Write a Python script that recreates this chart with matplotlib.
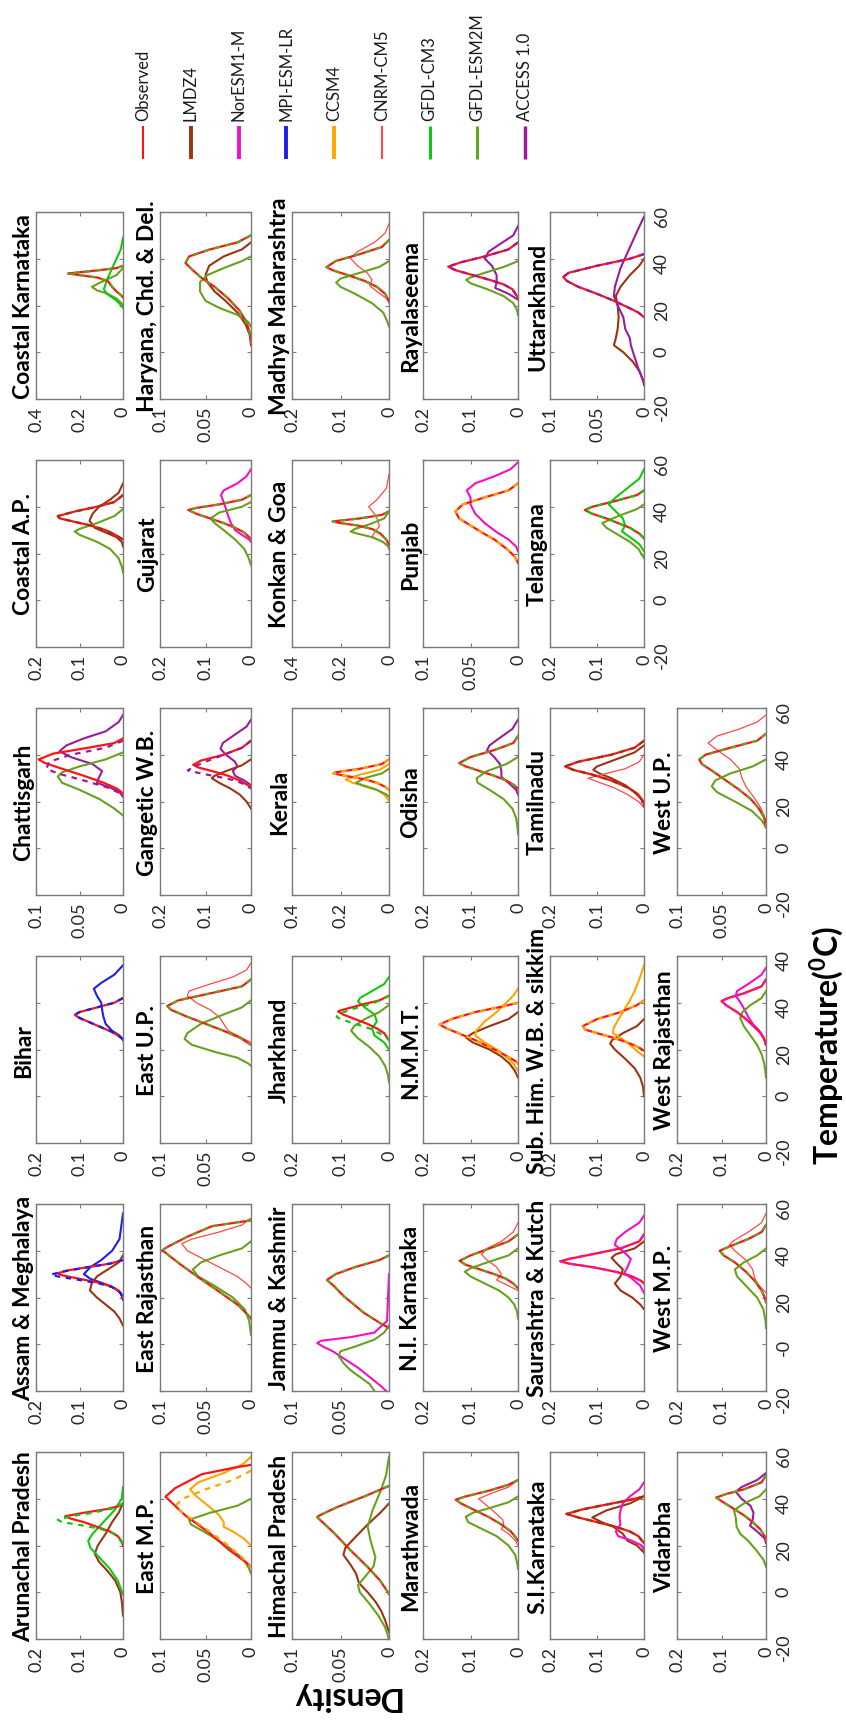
import matplotlib.pyplot as plt

plt.rcParams['font.family'] = ['Lato', 'DejaVu Sans']
plt.rcParams['mathtext.fontset'] = 'custom'
plt.rcParams['mathtext.rm'] = 'Lato'
plt.rcParams['mathtext.bf'] = 'Lato:bold'

# series shown in the legend
series_names = ['Observed', 'LMDZ4', 'NorESM1-M', 'MPI-ESM-LR', 'CCSM4',
                'CNRM-CM5', 'GFDL-CM3', 'GFDL-ESM2M', 'ACCESS 1.0']

temp_ticks = [-20, 0, 20, 40, 60]
temp_labels = ['-20', '0', '20', '40', '60']
temp_labels_west_raj = ['-20', '0', '20', '40', '40']
temp_labels_west_mp = ['-20', '-0', '20', '40', '60']

# every curve: list of (temperature, density)
# 'dashed' = model whose corrected curve is drawn dashed over the observed one
coastal_karnataka = {
    'dashed': 'GFDL-ESM2M',
    'Observed': [(37, 0), (36, .03), (35, .12), (34, .22), (33.7, .252), (33, .2), (32, .12), (30.5, .07), (28, .05), (26, .03), (24.5, .01), (23.5, 0)],
    'GFDL-ESM2M': [(36, 0), (33, .03), (30.5, .09), (28, .143), (26.5, .12), (25, .07), (23, .03), (21, .008), (20, 0)],
    'GFDL-CM3': [(49, 0), (44, .01), (40, .03), (36, .05), (31, .073), (27, .088), (25, .075), (22.5, .035), (20, .008), (19, 0)],
}
coastal_ap = {
    'dashed': 'LMDZ4',
    'Observed': [(45, 0), (42, .02), (40, .06), (38, .11), (36, .15), (35, .145), (33.5, .11), (32, .075), (30, .04), (28, .018), (26, 0)],
    'LMDZ4': [(50, 0), (46, .01), (43, .03), (40, .055), (37, .07), (34, .077), (31, .065), (29, .04), (27, .015), (25, .003), (23, 0)],
    'GFDL-ESM2M': [(39, 0), (36, .02), (33, .06), (30.5, .1), (29.4, .111), (28, .1), (25, .06), (22, .03), (18, .01), (14, .002), (12, 0)],
}
chattisgarh = {
    'dashed': 'ACCESS 1.0',
    'Observed': [(47, 0), (45, .01), (43, .04), (40.5, .08), (38, .097), (36.5, .09), (34, .07), (31, .045), (28, .022), (25.5, .007), (23.5, 0)],
    'corrected': [(46, 0), (43, .02), (40, .06), (37, .085), (34, .088), (32, .075), (29, .045), (26, .018), (23, 0)],
    'ACCESS 1.0': [(57, 0), (54, .005), (50, .02), (47, .045), (44, .065), (41.5, .073), (39, .06), (36, .035), (33, .024), (30, .028), (28, .03), (26, .015), (24, .004), (22, 0)],
    'GFDL-ESM2M': [(41, 0), (38, .02), (35, .05), (32.5, .07), (30.7, .075), (28, .07), (25, .05), (21, .027), (17, .01), (14, 0)],
}
bihar = {
    'dashed': 'MPI-ESM-LR',
    'Observed': [(42, 0), (40, .02), (38, .06), (36, .1), (34.8, .111), (33.5, .1), (31.5, .075), (29.5, .05), (27.5, .025), (25.5, .008), (24.5, 0)],
    'MPI-ESM-LR': [(56, 0), (52, .02), (48.5, .05), (46, .067), (43, .06), (40, .05), (37, .048), (34, .045), (31, .04), (28, .025), (26, .008), (24, 0)],
}
assam = {
    'dashed': 'MPI-ESM-LR',
    'Observed': [(36, 0), (34.5, .03), (33, .08), (31.5, .13), (30.3, .151), (29.5, .14), (28, .1), (26.5, .06), (25, .03), (23, .01), (21, .002), (20, 0)],
    'corrected': [(36, 0), (34.5, .03), (33, .08), (31, .14), (29.8, .166), (29, .15), (27.5, .1), (26, .055), (24.5, .025), (22, .006), (20, 0)],
    'MPI-ESM-LR': [(56, 0), (45, .008), (40, .025), (36, .05), (33, .075), (30, .09), (28, .075), (26, .045), (24, .02), (22, .006), (19, 0)],
    'LMDZ4': [(38, 0), (35, .01), (32, .035), (29, .06), (26, .072), (23, .076), (20, .06), (17, .04), (14, .02), (11, .008), (8, 0)],
}
arunachal = {
    'dashed': 'GFDL-CM3',
    'Observed': [(38, 0), (37, .005), (35.5, .04), (34, .09), (32.5, .133), (31.5, .12), (30, .09), (28, .06), (26, .03), (24, .012), (22, .004), (20, 0)],
    'corrected': [(38, 0), (36, .02), (34, .07), (32.5, .12), (31, .15), (30, .14), (28.5, .09), (27, .05), (25, .02), (22, .005), (20, 0)],
    'LMDZ4': [(38, 0), (34, .01), (30, .025), (25, .04), (20, .058), (16.5, .065), (13, .055), (9, .035), (5, .018), (0, .006), (-5, .002), (-10, 0)],
    'GFDL-CM3': [(45, 0), (40, .003), (35, .02), (30, .045), (25, .07), (22, .08), (19, .075), (15, .055), (10, .03), (5, .012), (0, .002), (-1, 0)],
}
haryana = {
    'dashed': 'GFDL-ESM2M',
    'Observed': [(50, 0), (47, .015), (44, .045), (41, .068), (38.2, .072), (35.5, .065), (32, .055), (28, .04), (23, .025), (18, .013), (13, .005), (8, .001), (4, 0)],
    'LMDZ4': [(47, 0), (44, .01), (41, .03), (37, .046), (33, .05), (30, .048), (26, .04), (22, .028), (17, .015), (12, .006), (7, .001), (3, 0)],
    'GFDL-ESM2M': [(41, 0), (39, .01), (36, .03), (33, .048), (30, .056), (26, .056), (22, .05), (19, .035), (16, .015), (13, .003), (11, 0)],
}
gujarat = {
    'dashed': 'GFDL-ESM2M',
    'Observed': [(45, 0), (43, .02), (41, .07), (39.5, .12), (38.6, .138), (37, .12), (35, .09), (33, .06), (31, .035), (29, .015), (27, .004), (26, 0)],
    'NorESM1-M': [(56, 0), (53, .01), (50, .03), (47, .06), (45, .066), (42, .06), (39, .055), (36, .05), (33, .044), (30, .035), (28, .02), (26, .004), (25, 0)],
    'GFDL-ESM2M': [(42, 0), (40, .02), (37.5, .07), (35, .089), (33, .08), (30, .06), (26, .035), (22, .015), (18, .005), (15, 0)],
}
gangetic = {
    'dashed': 'ACCESS 1.0',
    'Observed': [(46, 0), (43, .02), (40, .06), (37.5, .11), (35.7, .127), (34.5, .115), (33, .085), (31, .05), (29, .025), (27, .007), (26, 0)],
    'corrected': [(46, 0), (43, .02), (40, .06), (37, .1), (35, .125), (33.3, .139), (32, .11), (30.5, .07), (29, .035), (27, .01), (25.5, 0)],
    'ACCESS 1.0': [(55, 0), (52, .01), (48, .04), (45, .062), (42.5, .067), (40, .055), (37, .035), (35, .03), (33, .04), (31, .035), (29, .015), (27, 0)],
    'LMDZ4': [(38, 0), (35.5, .02), (33, .055), (31, .08), (30, .086), (28, .07), (25.5, .045), (23, .025), (20, .01), (17, 0)],
}
east_up = {
    'dashed': 'GFDL-ESM2M',
    'Observed': [(50, 0), (47, .01), (44, .045), (41, .08), (38.6, .092), (37, .088), (34, .07), (31, .05), (28, .03), (25, .012), (22, 0)],
    'CNRM-CM5': [(57, 0), (54, .005), (51, .02), (48, .045), (45, .068), (43, .07), (40, .06), (37, .045), (34, .035), (31, .03), (28, .025), (25, .01), (23, 0)],
    'GFDL-ESM2M': [(41, 0), (38, .01), (35, .03), (31, .055), (27, .07), (24.5, .073), (22, .065), (19, .04), (16.5, .015), (14, .003), (13, 0)],
}
east_rajasthan = {
    'dashed': 'GFDL-ESM2M',
    'Observed': [(53, 0), (52.2, .014), (50.5, .043), (46, .07), (41.6, .092), (40.2, .0975), (34.3, .078), (28.4, .057), (22.5, .035), (16.7, .014), (12, .002), (11, 0)],
    'CNRM-CM5': [(54, 0), (51, .01), (48, .035), (45, .065), (43, .076), (40, .07), (37, .055), (33, .035), (29, .015), (26, .005), (24, 0)],
    'GFDL-ESM2M': [(44, 0), (41, .01), (38, .035), (35, .055), (32, .064), (29, .058), (25, .04), (20, .02), (15, .007), (10, .002), (4, 0)],
}
east_mp = {
    'dashed': 'CCSM4',
    'Observed': [(54.5, 0), (53.4, .017), (50.5, .054), (44.6, .083), (40.9, .094), (32.8, .072), (25.5, .046), (18.1, .024), (13, .006), (11, 0)],
    'corrected': [(52, 0), (48, .02), (44, .05), (40, .075), (37, .083), (34, .075), (30, .06), (25, .042), (20, .025), (15, .01), (11, 0)],
    'CCSM4': [(58, 0), (55, .008), (51, .03), (47, .058), (44, .067), (41, .06), (37, .047), (33, .035), (30, .03), (28, .03), (26, .02), (23, .008), (20, 0)],
    'GFDL-ESM2M': [(40, 0), (37, .015), (34, .045), (31, .068), (29, .066), (26, .052), (22, .035), (18, .02), (14, .008), (10, .002), (8, 0)],
}
madhya_maharashtra = {
    'dashed': 'GFDL-ESM2M',
    'Observed': [(48, 0), (45, .015), (42, .06), (39, .11), (36.4, .129), (35, .115), (33, .085), (30.5, .05), (28, .025), (25, .008), (22, 0)],
    'CNRM-CM5': [(55, 0), (51, .008), (47, .03), (43, .065), (40.3, .08), (37, .065), (34, .045), (31, .035), (28.5, .04), (26, .025), (23, .005), (21, 0)],
    'GFDL-ESM2M': [(39, 0), (36.5, .02), (34, .06), (31.5, .1), (29.8, .109), (28, .1), (25, .07), (21, .035), (17, .012), (13, .003), (11, 0)],
}
konkan = {
    'dashed': 'GFDL-ESM2M',
    'Observed': [(38, 0), (36.5, .03), (35, .12), (34, .21), (33.7, .232), (33, .2), (32, .13), (30.5, .07), (28.5, .035), (26, .012), (24, 0)],
    'CNRM-CM5': [(54, 0), (48, .01), (43, .05), (40, .084), (37, .06), (34, .045), (31.5, .04), (29, .06), (27.3, .069), (25.5, .04), (24, .01), (23, 0)],
    'GFDL-ESM2M': [(38, 0), (35, .02), (32.5, .08), (30.5, .14), (29.4, .158), (28.5, .13), (27, .07), (25, .025), (23, .003), (22, 0)],
}
kerala = {
    'dashed': 'CCSM4',
    'Observed': [(38, 0), (36, .03), (34, .12), (32.5, .22), (32, .229), (31, .18), (29.5, .1), (28, .05), (26.5, .02), (25, 0)],
    'CCSM4': [(36, 0), (33.5, .04), (31.5, .12), (29.5, .179), (28, .15), (26.5, .09), (25, .05), (23, .02), (21, .005), (20, 0)],
    'GFDL-ESM2M': [(34, 0), (32, .03), (30, .1), (28, .136), (26.5, .1), (25, .05), (23, .01), (22, 0)],
}
jharkhand = {
    'dashed': 'GFDL-CM3',
    'Observed': [(43, 0), (41, .02), (39, .06), (37, .095), (36.3, .105), (35, .095), (33, .07), (31, .045), (29, .025), (27, .01), (24, 0)],
    'corrected': [(43, 0), (40, .03), (37, .08), (35, .105), (34, .108), (33, .1), (31, .07), (29, .04), (27, .02), (25, .005), (24, 0)],
    'GFDL-CM3': [(51, 0), (48, .01), (45, .035), (42, .06), (40.5, .064), (38, .05), (35, .03), (32, .025), (29, .035), (26, .03), (23, .01), (20, 0)],
    'GFDL-ESM2M': [(39, 0), (36, .02), (33, .05), (30, .072), (28, .078), (25, .065), (21, .04), (17, .02), (13, .008), (9, .002), (6, 0)],
}
jammu = {
    'dashed': 'GFDL-ESM2M',
    'Observed': [(38, 0), (36, .01), (33, .035), (30, .055), (27.5, .064), (25, .057), (20.7, .047), (13.5, .026), (9, .009), (7, 0)],
    'NorESM1-M': [(30, 0), (10, .002), (5, .015), (3, .04), (1.5, .07), (0.5, .074), (-1, .068), (-3, .058), (-6, .047), (-10, .032), (-14, .02), (-18, .008), (-20, .003)],
    'GFDL-ESM2M': [(8, 0), (5, .005), (2, .015), (-1, .035), (-3, .05), (-5, .052), (-8, .047), (-11, .04), (-14, .03), (-17, .02), (-20, .015)],
}
himachal = {
    'dashed': 'GFDL-ESM2M',
    'Observed': [(45.5, 0), (44.6, .005), (40.9, .026), (36.5, .053), (32.8, .072), (32.1, .074), (25.5, .057), (18.1, .04), (10.8, .022), (4.9, .009), (-0.7, 0)],
    'LMDZ4': [(38, 0), (34, .009), (29, .022), (23, .036), (19, .045), (16, .047), (12, .04), (8, .034), (4, .031), (0, .022), (-4, .014), (-8, .008), (-12, .004), (-17, 0)],
    'GFDL-ESM2M': [(58, 0), (50, .003), (43, .009), (35, .017), (28, .022), (22, .019), (15, .014), (11, .016), (6, .026), (3, .032), (0, .03), (-5, .02), (-10, .011), (-15, .004), (-20, 0)],
}
rayalaseema = {
    'dashed': 'ACCESS 1.0',
    'Observed': [(47, 0), (44, .02), (41, .07), (38.5, .12), (36.6, .147), (35, .13), (33, .095), (31, .06), (29, .03), (27, .012), (24, .002), (23, 0)],
    'ACCESS 1.0': [(54, 0), (50, .01), (46, .04), (43, .062), (40, .07), (37, .055), (33, .045), (30, .045), (27.5, .048), (25, .02), (22.5, 0)],
    'GFDL-ESM2M': [(39, 0), (36.5, .03), (34, .07), (32, .1), (31, .109), (29.5, .1), (27, .065), (24, .03), (21, .01), (18, .002), (16, 0)],
}
punjab = {
    'dashed': 'CCSM4',
    'Observed': [(50, 0), (47, .01), (44, .035), (41, .058), (38, .066), (35, .062), (32, .05), (29, .038), (26, .025), (22, .012), (19, .004), (16, 0)],
    'NorESM1-M': [(59, 0), (56, .008), (53, .025), (50, .045), (47, .054), (44, .05), (41, .05), (37, .045), (33, .035), (29, .022), (26, .01), (23, .002), (21, 0)],
}
odisha = {
    'dashed': 'GFDL-ESM2M',
    'Observed': [(48, 0), (45, .01), (42, .05), (39, .1), (36.4, .124), (35, .11), (33, .08), (31, .05), (29, .025), (27, .008), (25.5, 0)],
    'ACCESS 1.0': [(55, 0), (51, .012), (47, .04), (44, .06), (42, .065), (39, .05), (36, .038), (33, .035), (30.5, .035), (28, .02), (25, .004), (23, 0)],
    'GFDL-ESM2M': [(39, 0), (36, .025), (33, .065), (30, .087), (28, .085), (25, .06), (21, .03), (17, .012), (13, .004), (9, .001), (6, 0)],
}
nmmt = {
    'dashed': 'CCSM4',
    'Observed': [(40, 0), (38.5, .03), (36, .09), (33, .14), (30.7, .165), (29, .15), (26.5, .12), (24, .09), (21.5, .065), (19, .04), (17, .022), (15, .005), (14, 0)],
    'LMDZ4': [(36, 0), (33, .02), (30, .06), (27, .095), (25, .109), (23, .095), (20, .06), (17, .035), (14, .018), (11, .007), (8, 0)],
    'CCSM4': [(46, 0), (43, .01), (40, .025), (36, .045), (32, .07), (28, .088), (26, .09), (23, .07), (20, .045), (17, .025), (14, .01), (11, 0)],
}
ni_karnataka = {
    'dashed': 'GFDL-ESM2M',
    'Observed': [(47, 0), (44, .02), (41, .06), (38, .1), (35.7, .123), (34, .11), (32, .08), (30, .05), (28, .025), (26, .01), (24, 0)],
    'CNRM-CM5': [(52, 0), (48, .01), (44, .035), (41, .065), (38.5, .077), (36, .065), (33, .045), (30, .035), (27.5, .045), (25, .02), (23, 0)],
    'GFDL-ESM2M': [(41, 0), (38, .02), (35, .065), (32.5, .1), (31, .112), (29, .1), (26, .07), (23, .04), (20, .02), (17, .008), (14, .002), (11, 0)],
}
marathwada = {
    'dashed': 'GFDL-ESM2M',
    'Observed': [(48, 0), (46, .02), (43.5, .06), (41, .11), (39.6, .131), (38, .12), (35, .09), (32, .06), (29, .035), (26, .015), (23, .003), (22, 0)],
    'CNRM-CM5': [(48, 0), (45, .02), (42, .06), (40, .083), (37, .065), (34, .048), (31, .032), (29, .03), (27, .035), (25, .02), (22, .005), (20, 0)],
    'GFDL-ESM2M': [(41, 0), (38.5, .02), (36, .06), (34, .095), (32.3, .11), (30, .105), (27, .075), (24, .045), (20, .02), (16, .006), (12, .001), (10, 0)],
}
uttarakhand = {
    'dashed': 'ACCESS 1.0',
    'Observed': [(42, 0), (40, .015), (37, .05), (34, .08), (32.2, .086), (30.5, .082), (28, .07), (25, .05), (22, .032), (19, .016), (17, .006), (15, 0)],
    'LMDZ4': [(40, 0), (37, .005), (33, .015), (28, .025), (24, .03), (20, .028), (15, .027), (10, .028), (6, .03), (3, .032), (0, .022), (-4, .012), (-8, .005), (-12, .001), (-14, 0)],
    'ACCESS 1.0': [(58, 0), (52, .007), (44, .016), (36, .025), (28, .031), (24, .032), (20, .028), (15, .022), (10, .02), (6, .015), (3, .014), (-2, .01), (-7, .006), (-13, 0)],
}
telangana = {
    'dashed': 'GFDL-CM3',
    'Observed': [(47, 0), (45, .015), (42.5, .06), (40, .11), (38.6, .126), (37, .11), (35, .08), (33, .055), (31, .03), (28.5, .01), (26.5, 0)],
    'GFDL-CM3': [(56, 0), (52, .01), (48, .035), (44, .06), (41, .075), (38, .06), (35, .045), (32, .04), (29.5, .047), (27, .03), (24, .01), (21, 0)],
    'GFDL-ESM2M': [(41, 0), (39, .015), (36, .055), (33, .089), (31, .08), (28, .055), (25, .03), (22, .012), (19, .003), (18, 0)],
}
tamilnadu = {
    'dashed': 'LMDZ4',
    'Observed': [(46, 0), (43, .02), (40, .07), (37, .14), (35, .168), (33.5, .15), (31.5, .11), (29, .07), (26, .035), (23, .012), (20, .002), (18, 0)],
    'LMDZ4': [(44, 0), (41, .02), (38, .06), (35, .1), (33.6, .108), (32, .095), (30, .07), (27, .04), (24, .02), (21, .006), (19, 0)],
    'CNRM-CM5': [(40, 0), (37, .01), (34, .04), (32, .08), (30, .119), (28.5, .1), (26, .065), (23, .035), (20, .012), (17.5, 0)],
}
sub_him = {
    'dashed': 'CCSM4',
    'Observed': [(41, 0), (39, .015), (36, .05), (33, .1), (30, .13), (28.5, .125), (27, .1), (25, .065), (23, .035), (21, .012), (19.5, 0)],
    'LMDZ4': [(33, 0), (30, .015), (27, .045), (24, .068), (22.5, .072), (20, .062), (16, .04), (12, .02), (8, .008), (4, .002), (0, 0)],
    'CCSM4': [(56, 0), (50, .01), (45, .02), (41, .03), (36, .045), (32, .057), (29, .065), (27, .066), (25, .05), (22, .03), (19, .013), (17, 0)],
}
saurashtra = {
    'dashed': 'NorESM1-M',
    'Observed': [(47, 0), (44, .01), (41, .05), (38.5, .11), (36.5, .16), (35.5, .178), (34.5, .16), (33, .11), (31, .06), (29, .025), (27, .005), (26, 0)],
    'LMDZ4': [(44, 0), (41, .02), (38.5, .06), (37, .069), (35, .06), (32, .045), (29, .05), (26, .062), (23, .05), (20, .025), (17, .008), (15, 0)],
    'NorESM1-M': [(55, 0), (52, .01), (48, .04), (45, .058), (42.5, .062), (39, .04), (36.5, .028), (33, .035), (30.5, .042), (28, .025), (25, .008), (22, 0)],
}
si_karnataka = {
    'dashed': 'LMDZ4',
    'Observed': [(41, 0), (39.5, .03), (37.5, .08), (35.5, .13), (33.5, .165), (32, .14), (30, .1), (28, .06), (26, .03), (24, .012), (21, 0)],
    'LMDZ4': [(41, 0), (38, .03), (35, .08), (32, .11), (30, .09), (28, .065), (25, .045), (22, .035), (20, .015), (17, 0)],
    'NorESM1-M': [(47, 0), (44, .01), (41, .03), (38, .045), (35, .05), (32, .052), (29, .05), (26, .06), (24, .055), (22, .025), (20, .005), (18, 0)],
}
west_up = {
    'dashed': 'GFDL-ESM2M',
    'Observed': [(49, 0), (46, .01), (43, .04), (40, .068), (38, .075), (36, .072), (33, .06), (29, .045), (25, .03), (21, .017), (17, .008), (13, .002), (9, 0)],
    'CNRM-CM5': [(57, 0), (54, .01), (51, .03), (48, .055), (45, .065), (42, .055), (38, .04), (34, .03), (30, .027), (26, .022), (22, .014), (18, .007), (14, .002), (11, 0)],
    'GFDL-ESM2M': [(38, 0), (35, .015), (32, .04), (29, .057), (26.5, .061), (24, .055), (20, .035), (16, .016), (12, .005), (9, 0)],
}
west_rajasthan = {
    'dashed': 'NorESM1-M',
    'Observed': [(50, 0), (47, .01), (44, .05), (42, .085), (40.7, .1), (39, .09), (36, .065), (33, .045), (30, .028), (27, .012), (24, .003), (22, 0)],
    'NorESM1-M': [(55, 0), (52, .01), (48, .04), (45, .065), (43, .068), (40, .057), (37, .048), (34, .04), (31, .03), (28, .015), (25, .005), (22, 0)],
    'GFDL-ESM2M': [(45, 0), (42, .01), (39, .035), (36, .053), (33.5, .058), (30, .05), (26, .035), (22, .02), (18, .01), (14, .004), (10, .001), (8, 0)],
}
west_mp = {
    'dashed': 'GFDL-ESM2M',
    'Observed': [(51, 0), (48, .01), (45, .04), (42, .08), (40, .104), (38, .095), (35, .07), (31, .045), (27, .025), (23, .01), (20, .003), (18, 0)],
    'CNRM-CM5': [(56, 0), (52, .01), (48, .04), (44, .075), (42.5, .082), (40, .07), (36, .045), (32, .03), (28, .025), (25, .015), (22, 0)],
    'GFDL-ESM2M': [(41, 0), (38, .02), (35, .05), (32, .07), (29, .065), (25, .045), (20, .02), (15, .006), (10, .001), (7, 0)],
}
vidarbha = {
    'dashed': 'GFDL-ESM2M',
    'Observed': [(50, 0), (47, .01), (44, .05), (42, .09), (40.5, .112), (39, .1), (36, .075), (33, .05), (30, .03), (27, .013), (24, .003), (22, 0)],
    'ACCESS 1.0': [(51, 0), (48, .02), (45, .055), (43, .068), (40, .055), (37, .035), (34, .028), (31, .03), (28.5, .036), (26, .02), (23, .003), (21, 0)],
    'GFDL-ESM2M': [(44, 0), (41, .015), (38, .05), (35, .072), (32, .068), (28, .066), (25, .058), (22, .04), (18, .022), (14, .006), (11, 0)],
}

# (title, density axis max, curves, temperature tick labels or None); rows top->bottom
grid = [
    [('Coastal Karnataka', 0.4, coastal_karnataka, None), ('Haryana, Chd. & Del.', 0.1, haryana, None),
     ('Madhya Maharashtra', 0.2, madhya_maharashtra, None), ('Rayalaseema', 0.2, rayalaseema, None),
     ('Uttarakhand', 0.1, uttarakhand, temp_labels), None],
    [('Coastal A.P.', 0.2, coastal_ap, None), ('Gujarat', 0.2, gujarat, None),
     ('Konkan & Goa', 0.4, konkan, None), ('Punjab', 0.1, punjab, None),
     ('Telangana', 0.2, telangana, temp_labels), None],
    [('Chattisgarh', 0.1, chattisgarh, None), ('Gangetic W.B.', 0.2, gangetic, None),
     ('Kerala', 0.4, kerala, None), ('Odisha', 0.2, odisha, None),
     ('Tamilnadu', 0.2, tamilnadu, None), ('West U.P.', 0.1, west_up, temp_labels)],
    [('Bihar', 0.2, bihar, None), ('East U.P.', 0.1, east_up, None),
     ('Jharkhand', 0.2, jharkhand, None), ('N.M.M.T.', 0.2, nmmt, None),
     ('Sub. Him. W.B. & sikkim', 0.2, sub_him, None), ('West Rajasthan', 0.2, west_rajasthan, temp_labels_west_raj)],
    [('Assam & Meghalaya', 0.2, assam, None), ('East Rajasthan', 0.1, east_rajasthan, None),
     ('Jammu & Kashmir', 0.1, jammu, None), ('N.I. Karnataka', 0.2, ni_karnataka, None),
     ('Saurashtra & Kutch', 0.2, saurashtra, None), ('West M.P.', 0.2, west_mp, temp_labels_west_mp)],
    [('Arunachal Pradesh', 0.2, arunachal, None), ('East M.P.', 0.1, east_mp, None),
     ('Himachal Pradesh', 0.1, himachal, None), ('Marathwada', 0.2, marathwada, None),
     ('S.I.Karnataka', 0.2, si_karnataka, None), ('Vidarbha', 0.2, vidarbha, temp_labels)],
]

colors = {
    'Observed': '#FF1414', 'LMDZ4': '#9A3412', 'NorESM1-M': '#F20FC8',
    'MPI-ESM-LR': '#1E1EE6', 'CCSM4': '#FFA500', 'CNRM-CM5': '#FF4848',
    'GFDL-CM3': '#10C810', 'GFDL-ESM2M': '#67A21E', 'ACCESS 1.0': '#9A1C9C',
}
line_w = {
    'Observed': 1.6, 'LMDZ4': 1.5, 'NorESM1-M': 1.5, 'MPI-ESM-LR': 1.5, 'CCSM4': 1.5,
    'CNRM-CM5': 0.9, 'GFDL-CM3': 1.5, 'GFDL-ESM2M': 1.5, 'ACCESS 1.0': 1.5,
}
legend_w = {
    'Observed': 1.5, 'LMDZ4': 2.8, 'NorESM1-M': 2.8, 'MPI-ESM-LR': 2.8, 'CCSM4': 2.8,
    'CNRM-CM5': 1.5, 'GFDL-CM3': 2.2, 'GFDL-ESM2M': 2.2, 'ACCESS 1.0': 2.5,
}

W, H = 846, 1731
col_x = [(36, 123), (160, 251), (292, 389), (423, 518), (550, 644), (677, 766)]
row_top = [213, 461, 709, 957, 1205, 1453]
ph = 187

fig = plt.figure(figsize=(W / 100, H / 100), dpi=100)

# legend strip along the top
lax = fig.add_axes([0, 0, 1, 1], zorder=-1)
lax.set_xlim(0, W)
lax.set_ylim(H, 0)
lax.axis('off')
for i, name in enumerate(series_names):
    x = 143 + 47.75 * i
    lax.plot([x, x], [127, 160], color=colors[name], lw=legend_w[name], solid_capstyle='butt')
    lax.text(x, 121, name, rotation=90, ha='center', va='bottom', fontsize=12, color='#1a1a1a')

gray = '#7a7a7a'
for r, row in enumerate(grid):
    for c, cell in enumerate(row):
        if cell is None:
            continue
        title, dmax, data, tlabels = cell
        x0, x1 = col_x[c]
        ax = fig.add_axes([x0 / W, 1 - (row_top[r] + ph) / H, (x1 - x0) / W, ph / H])
        for name, pts in data.items():
            if name in ('dashed', 'corrected', 'Observed'):
                continue
            t, d = zip(*pts)
            ax.plot(d, t, color=colors[name], lw=line_w[name])
        t, d = zip(*data['Observed'])
        ax.plot(d, t, color=colors['Observed'], lw=line_w['Observed'])
        t, d = zip(*data.get('corrected', data['Observed']))
        ax.plot(d, t, color=colors[data['dashed']], lw=1.6, dashes=(2.5, 2.5))

        ax.set_xlim(dmax, 0)
        ax.set_ylim(-20, 60)
        ax.set_xticks([dmax, dmax / 2, 0])
        ax.set_xticklabels(['%g' % dmax, '%g' % (dmax / 2), '0'])
        ax.set_yticks(temp_ticks)
        ax.set_yticklabels(tlabels if tlabels else [''] * 5)
        ax.tick_params(direction='in', length=3, width=0.8, color=gray,
                       top=True, bottom=True, left=True, right=True,
                       labelsize=13, labelcolor='#262626')
        ax.tick_params(axis='x', labelrotation=90, pad=5)
        ax.tick_params(axis='y', labelleft=False, labelright=tlabels is not None,
                       labelrotation=90, pad=7)
        for s in ax.spines.values():
            s.set_color(gray)
            s.set_linewidth(1)
        ax.text(-0.02, 0.5, title, transform=ax.transAxes, rotation=90,
                ha='right', va='center', fontsize=16.5, fontweight='bold')

fig.text(345 / W, 1 - 1697 / H, 'Density', rotation=180, ha='center', va='center',
         fontsize=23, fontweight='bold')
fig.text(827 / W, 1 - 1045 / H, r'Temperature($^{\mathbf{0}}$C)', rotation=90,
         ha='center', va='center', fontsize=23, fontweight='bold')

fig.savefig('out.png', dpi=100)
